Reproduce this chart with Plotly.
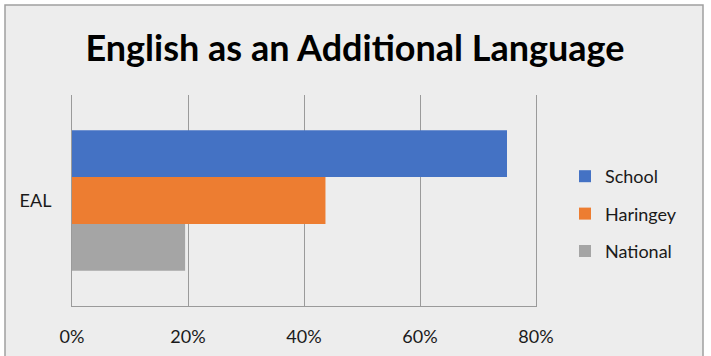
import plotly.graph_objects as go

categories = ["EAL"]
series_names = ["School", "Haringey", "National"]
school = [75.0]
haringey = [43.7]
national = [19.5]
tick_vals = [0, 20, 40, 60, 80]
tick_text = ["0%", "20%", "40%", "60%", "80%"]
colors = ["#4472C4", "#ED7D31", "#A5A5A5"]

W, H = 711, 356
L, R, T, B = 72, 175, 95, 50
pw = W - L - R
ph = H - T - B

def px_x(p):
    return (p - L) / pw

def px_y(p):
    return (H - B - p) / ph

fig = go.Figure()
for name, vals, col in zip(series_names, [school, haringey, national], colors):
    fig.add_trace(go.Bar(
        y=categories, x=vals, name=name, orientation="h",
        marker=dict(color=col, line=dict(width=0)),
        legendgroup=name,
    ))

fig.add_shape(type="rect", xref="paper", yref="paper",
              x0=px_x(5), x1=px_x(703), y0=px_y(380), y1=px_y(5),
              line=dict(color="#a0a0a0", width=1.5), fillcolor="#EDEDED",
              layer="below")

font_family = "Lato, 'Liberation Sans', Arial, sans-serif"

fig.update_layout(
    width=W, height=H,
    margin=dict(l=L, r=R, t=T, b=B, autoexpand=False),
    paper_bgcolor="white",
    plot_bgcolor="rgba(0,0,0,0)",
    barmode="group",
    bargap=0.333,
    bargroupgap=0,
    font=dict(family=font_family, size=18, color="#1a1a1a"),
    title=dict(text="<b>English as an Additional Language</b>",
               x=355 / W, xanchor="center", xref="container",
               y=1 - 48 / H, yanchor="middle", yref="container",
               font=dict(size=36, color="#000000", family=font_family)),
    xaxis=dict(range=[0, 80], tickvals=tick_vals, ticktext=tick_text,
               showgrid=True, gridcolor="#9a9a9a", gridwidth=1,
               zeroline=False, showline=True, linecolor="#9a9a9a", linewidth=1,
               ticks="", ticklabelstandoff=14, fixedrange=True, automargin=False),
    yaxis=dict(autorange="reversed", showgrid=False, zeroline=False,
               showline=True, mirror=True, linecolor="#9a9a9a", linewidth=1,
               ticks="", ticklabelstandoff=16, fixedrange=True, automargin=False),
    legend=dict(x=px_x(565), xanchor="left", y=px_y(158), yanchor="top",
                bgcolor="rgba(0,0,0,0)", traceorder="grouped",
                tracegroupgap=11, font=dict(size=18)),
    showlegend=True,
)

fig.write_html("out.html", config={"displayModeBar": False},
               post_script="document.body.style.margin='0';document.body.style.overflow='hidden';")
